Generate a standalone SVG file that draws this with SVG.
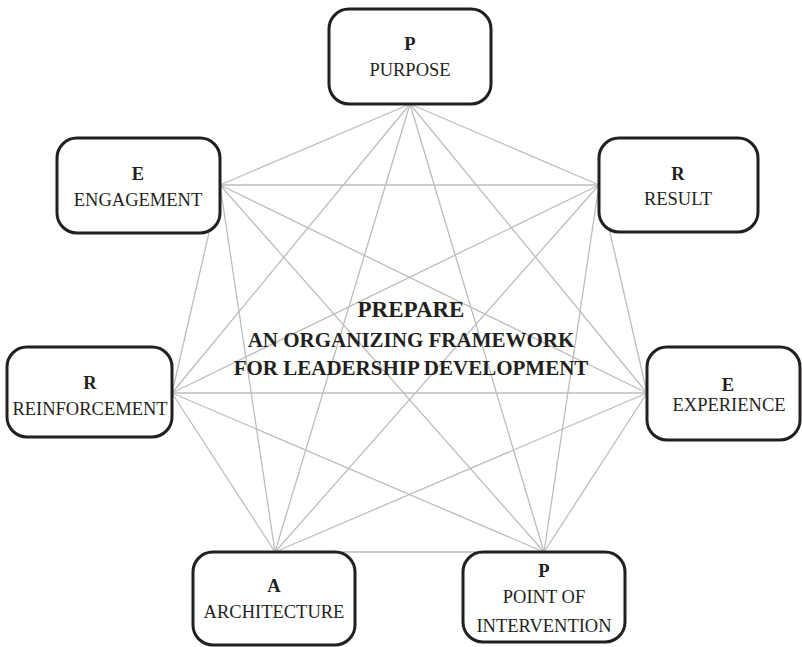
<svg xmlns="http://www.w3.org/2000/svg" width="802" height="647" viewBox="0 0 802 647">
<style>
.box{fill:#fff;stroke:#231f20;stroke-width:3}
.ln{stroke:#bdbdbd;stroke-width:1.3;fill:none}
.t{font-family:"Liberation Serif","Times New Roman",serif;font-size:18.5px;fill:#231f20;text-anchor:middle}
.b{font-weight:bold}
.c{font-family:"Liberation Serif","Times New Roman",serif;font-weight:bold;fill:#231f20;text-anchor:middle}
</style>
<rect width="802" height="647" fill="#fff"/>
<g id="connectors">
<line class="ln" x1="410" y1="104" x2="220" y2="185"/>
<line class="ln" x1="410" y1="104" x2="599" y2="185"/>
<line class="ln" x1="410" y1="104" x2="172" y2="393"/>
<line class="ln" x1="410" y1="104" x2="647" y2="393"/>
<line class="ln" x1="410" y1="104" x2="275" y2="552"/>
<line class="ln" x1="410" y1="104" x2="544" y2="552"/>
<line class="ln" x1="220" y1="185" x2="599" y2="185"/>
<line class="ln" x1="220" y1="185" x2="172" y2="393"/>
<line class="ln" x1="220" y1="185" x2="647" y2="393"/>
<line class="ln" x1="220" y1="185" x2="275" y2="552"/>
<line class="ln" x1="220" y1="185" x2="544" y2="552"/>
<line class="ln" x1="599" y1="185" x2="172" y2="393"/>
<line class="ln" x1="599" y1="185" x2="647" y2="393"/>
<line class="ln" x1="599" y1="185" x2="275" y2="552"/>
<line class="ln" x1="599" y1="185" x2="544" y2="552"/>
<line class="ln" x1="172" y1="393" x2="647" y2="393"/>
<line class="ln" x1="172" y1="393" x2="275" y2="552"/>
<line class="ln" x1="172" y1="393" x2="544" y2="552"/>
<line class="ln" x1="647" y1="393" x2="275" y2="552"/>
<line class="ln" x1="647" y1="393" x2="544" y2="552"/>
<line class="ln" x1="275" y1="552" x2="544" y2="552"/>
</g>
<g id="purpose">
<rect class="box" x="329" y="9" width="162" height="95" rx="20"/>
<text class="t b" x="410" y="50">P</text>
<text class="t" x="410" y="76">PURPOSE</text>
</g>
<g id="engagement">
<rect class="box" x="57" y="138" width="163" height="95" rx="20"/>
<text class="t b" x="138" y="180">E</text>
<text class="t" x="138" y="206">ENGAGEMENT</text>
</g>
<g id="result">
<rect class="box" x="599" y="138" width="159" height="94" rx="20"/>
<text class="t b" x="678" y="180">R</text>
<text class="t" x="678" y="205">RESULT</text>
</g>
<g id="reinforcement">
<rect class="box" x="7" y="347" width="165" height="90" rx="20"/>
<text class="t b" x="90" y="389">R</text>
<text class="t" x="90" y="415">REINFORCEMENT</text>
</g>
<g id="experience">
<rect class="box" x="647" y="347" width="153" height="93" rx="20"/>
<text class="t b" x="728" y="391">E</text>
<text class="t" x="729" y="411">EXPERIENCE</text>
</g>
<g id="architecture">
<rect class="box" x="193" y="552" width="162" height="93" rx="20"/>
<text class="t b" x="274" y="592">A</text>
<text class="t" x="274" y="618">ARCHITECTURE</text>
</g>
<g id="point">
<rect class="box" x="463" y="552" width="162" height="90" rx="20"/>
<text class="t b" x="544" y="577">P</text>
<text class="t" x="544" y="603">POINT OF</text>
<text class="t" x="544" y="632">INTERVENTION</text>
</g>
<g id="title">
<text class="c" x="411" y="317" font-size="23">PREPARE</text>
<text class="c" x="411" y="347" font-size="21">AN ORGANIZING FRAMEWORK</text>
<text class="c" x="411" y="375" font-size="21">FOR LEADERSHIP DEVELOPMENT</text>
</g>
</svg>
